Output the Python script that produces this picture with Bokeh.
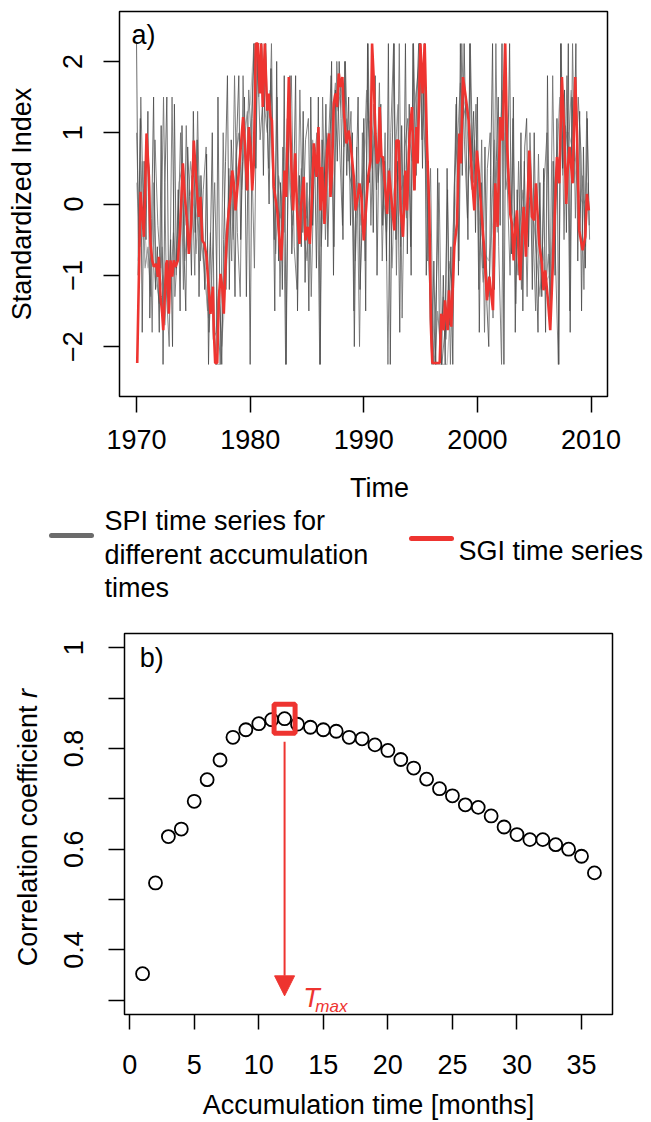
import numpy as np
from bokeh.plotting import figure
from bokeh.layouts import column, row
from bokeh.models import Range1d, FixedTicker, Arrow, NormalHead
from bokeh.core.properties import value
from bokeh.embed import file_html
from bokeh.resources import INLINE

# ---------------- data: panel a ----------------
sgi_time = [1970.06, 1970.35, 1970.65, 1970.88, 1971.09, 1971.23, 1971.38, 1971.52, 1971.73, 1971.88,
            1971.96, 1972.11, 1972.26, 1972.35, 1972.46, 1972.61, 1972.70, 1972.84, 1972.99, 1973.14,
            1973.28, 1973.43, 1973.64, 1973.81, 1974.08, 1974.25, 1974.46, 1974.60, 1974.81, 1975.04,
            1975.25, 1975.48, 1975.63, 1975.78, 1975.98, 1976.16, 1976.30, 1976.51, 1976.72, 1976.80,
            1976.92, 1977.10, 1977.24, 1977.39, 1977.54, 1977.68, 1977.83, 1977.98, 1978.12, 1978.27,
            1978.42, 1978.56, 1978.71, 1978.86, 1979.15, 1979.38, 1979.53, 1979.74, 1979.88, 1980.03,
            1980.18, 1980.32, 1980.50, 1980.67, 1980.85, 1980.97, 1981.11, 1981.29, 1981.50, 1981.64,
            1981.79, 1981.91, 1982.08, 1982.38, 1982.61, 1982.73, 1982.90, 1983.02, 1983.17, 1983.40,
            1983.61, 1983.78, 1983.96, 1984.13, 1984.34, 1984.49, 1984.72, 1984.87, 1985.07, 1985.25,
            1985.45, 1985.60, 1985.84, 1986.01, 1986.19, 1986.33, 1986.54, 1986.77, 1986.95, 1987.07,
            1987.21, 1987.36, 1987.51, 1987.65, 1987.80, 1987.95, 1988.12, 1988.24, 1988.47, 1988.68,
            1988.83, 1989.12, 1989.27, 1989.47, 1989.62, 1989.79, 1990.00, 1990.21, 1990.38, 1990.59,
            1990.73, 1990.87, 1991.02, 1991.17, 1991.31, 1991.40, 1991.55, 1991.69, 1991.81, 1992.05,
            1992.22, 1992.49, 1992.69, 1992.87, 1993.07, 1993.25, 1993.45, 1993.66, 1993.80, 1994.04,
            1994.24, 1994.45, 1994.63, 1994.74, 1994.98, 1995.18, 1995.36, 1995.56, 1995.77, 1995.92,
            1996.03, 1996.68, 1996.82, 1997.03, 1997.15, 1997.38, 1997.50, 1997.70, 1997.97, 1998.20,
            1998.41, 1998.55, 1998.73, 1998.93, 1999.23, 1999.52, 1999.73, 1999.96, 2000.11, 2000.34,
            2000.61, 2000.84, 2001.05, 2001.37, 2001.57, 2001.78, 2002.01, 2002.22, 2002.45, 2002.60,
            2002.89, 2003.04, 2003.19, 2003.33, 2003.48, 2003.63, 2003.77, 2003.92, 2004.07, 2004.27,
            2004.56, 2004.80, 2005.00, 2005.15, 2005.44, 2005.68, 2005.82, 2005.97, 2006.21, 2006.41,
            2006.70, 2007.00, 2007.20, 2007.44, 2007.64, 2007.82, 2007.94, 2008.11, 2008.38, 2008.61,
            2008.76, 2008.96, 2009.26, 2009.49, 2009.64, 2009.81]
sgi_value = [-2.23, 0.17, -0.46, 0.99, 0.38, -0.56, -0.79, -0.88, -0.84, -1.02,
             -0.74, -1.30, -1.54, -1.77, -1.40, -0.84, -0.79, -1.54, -0.79, -1.02,
             -0.79, -0.88, -0.79, -0.42, 0.57, 0.10, -0.28, -0.70, -0.28, 0.89,
             0.33, -0.18, 0.10, -0.51, -0.56, -0.74, -1.07, -1.54, -1.16, -1.77,
             -2.23, -2.23, -1.35, -0.98, -1.16, -1.54, -0.84, -0.37, -0.09, 0.10,
             0.47, 0.29, -0.09, 0.19, 0.75, 1.22, 0.85, 0.19, 1.08, 0.80,
             0.19, 0.57, 2.25, 2.25, 1.55, 2.25, 1.36, 2.25, 1.31, 1.55,
             1.22, 1.17, 0.24, -0.09, -0.56, -0.79, -0.18, 0.47, 0.10, 1.78,
             0.61, -0.09, 0.71, -0.09, -0.56, 0.00, 0.38, -0.51, -0.32, -0.56,
             0.14, 0.85, 0.38, 1.08, -0.09, 0.52, -0.28, 0.75, 0.99, 0.10,
             0.47, 1.41, 1.55, 1.36, 1.83, 1.64, 1.78, 1.31, 0.85, 1.03,
             0.85, 0.38, -0.09, 0.10, 0.29, 0.10, -0.51, -0.04, 0.38, 0.61,
             2.25, 1.78, 0.99, 0.57, 0.61, 1.36, 0.66, 0.66, 0.38, -0.14,
             0.47, -0.04, -0.37, 0.89, 0.89, -0.09, -0.46, 0.47, -0.09, 0.99,
             1.36, 0.19, 1.08, 0.57, 2.25, 1.55, 2.25, 0.85, -0.09, -1.77,
             -2.23, -2.23, -1.54, -1.77, -1.35, -1.77, -1.21, -1.72, -0.60, -0.28,
             0.99, 0.57, 1.78, 1.55, 1.17, 0.38, -0.09, 0.75, 0.47, -0.09,
             -0.65, -1.35, -1.02, -1.49, 0.29, -0.32, 1.22, 0.89, 2.25, 0.89,
             -0.14, -0.28, -0.79, -0.37, -0.09, -0.70, -1.07, -0.46, -0.04, -0.74,
             0.75, -0.18, -0.23, 0.29, -0.56, -0.84, -1.21, -0.93, -1.35, -1.77,
             -0.60, 0.66, 0.29, 1.78, 0.99, 0.00, 0.47, 0.80, 0.29, 1.78,
             0.99, -0.37, -0.65, -0.46, 0.14, -0.09]

# SPI, short accumulation (bi-monthly readings, 1970-2009)
spi_short = [
    2.25, -0.8, 1.2, -1.8, 0.6, -0.5,   1.3, -1.6, -0.2, 1.5, -1.2, -0.6,
    -1.8, 1.1, -2.25, 0.3, 1.5, -1.4,   -0.5, -2.0, 1.4, -0.9, 0.2, -1.5,
    1.1, -0.6, -1.5, 0.8, 0.1, -1.0,    1.3, -0.4, 0.9, -1.3, 0.4, -0.3,
    -1.2, 0.7, -2.25, -0.6, 1.0, -1.8,  -2.25, 1.5, -1.4, -2.25, -0.5, 0.6,
    1.8, -1.2, 0.9, 0.2, -1.3, 1.0,     1.8, -0.5, 0.6, 1.5, -1.3, 0.9,
    -2.25, 1.2, 2.25, 0.5, 2.25, 1.6,   2.25, 0.4, 2.25, 1.2, 0.0, 1.9,
    0.5, -1.5, 2.0, -0.8, 0.3, -1.2,    1.8, -2.25, 0.6, 1.8, -0.7, 0.2,
    1.8, -1.5, 0.4, -0.6, 1.3, -1.1,    0.3, -1.5, 1.5, -0.3, 0.8, -0.9,
    1.5, -2.25, 0.9, 0.1, 1.4, -0.6,    0.5, 2.0, -1.0, 1.6, 0.6, 2.0,
    1.2, -0.5, 2.0, 0.4, 1.5, -0.3,     1.0, -2.0, 0.3, 1.5, -1.2, -0.4,
    1.2, -1.5, 2.25, 0.3, 1.5, -0.4,    1.8, -1.0, 0.9, 1.4, -0.3, 0.6,
    -0.8, 2.25, -2.25, 0.7, 2.25, -0.5, 0.6, -1.8, 1.1, -0.3, 2.25, -0.7,
    1.4, -1.0, 2.25, 0.2, 1.5, 2.25,    2.25, 0.5, 2.25, -1.0, 0.6, -1.6,
    -2.25, -0.8, -2.25, 0.5, -1.9, -2.25, -1.0, -2.25, 0.5, -1.7, -0.6, -2.25,
    0.2, 1.5, -1.0, 2.25, 0.4, 2.25,    0.9, -0.5, 2.25, 0.6, 1.3, -0.4,
    1.5, -1.8, 0.3, -0.9, 0.8, -1.4,    -2.0, 0.4, 2.25, -1.2, 0.6, 1.5,
    -0.3, 2.25, -2.25, 1.8, 0.5, 2.25,  -0.7, 1.5, -1.8, 0.2, -1.0, 1.0,
    -1.5, 0.8, 1.2, -0.6, 0.5, -1.2,    1.0, -0.8, -1.8, 0.3, -1.3, 0.5,
    -1.8, 1.8, -0.7, -1.6, 0.6, -1.0,   1.2, -2.25, 2.25, 0.5, 1.6, -0.4,
    2.25, -1.8, 1.5, 0.6, 2.25, -0.8,   1.3, -1.5, 0.8, -0.9, 1.2, -0.3]

# SPI, second short accumulation (quarterly readings, offset)
spi_short2 = [
    -1.0, 1.5, -0.2, 0.8,  0.5, -1.8, 0.9, -0.3,  -0.9, 1.5, -1.2, -2.0,  1.5, -1.3, -0.6, 1.0,
    -1.2, 1.1, -0.7, 0.4,  -1.0, 1.3, -0.8, 0.2,  0.8, -1.8, -1.0, 0.3,  -1.5, -2.25, 1.0, -1.2,
    0.5, -0.8, 1.8, -0.4,  -1.3, 1.8, 0.2, 1.6,   0.8, -0.9, 2.25, 0.9,  1.5, 2.25, 0.5, 2.25,
    -0.5, 1.5, -1.3, 0.8,  -2.25, 0.7, 1.8, -0.6, -1.2, 1.6, -0.4, 0.9,  1.2, -1.3, 0.5, 1.0,
    -2.25, 1.5, -0.5, 0.8, 1.8, -0.6, 2.0, 0.8,   -0.3, 2.0, 0.6, 1.3,   -1.5, 0.8, -2.0, 1.0,
    -0.8, 2.25, -0.3, 1.4, 0.2, 1.7, -0.8, 1.0,   -2.25, 1.0, 2.25, -1.0, 2.25, -1.6, 0.8, 1.2,
    -0.6, 2.25, 0.4, 2.25, 0.9, 2.25, -0.8, 0.5,  -2.25, -1.2, 0.3, -2.25, -1.8, 0.2, -2.25, -0.4,
    1.4, -0.8, 2.25, 0.8,  -0.2, 2.25, 0.3, 1.4,  -1.2, 0.9, -1.8, 0.5,  1.0, -1.6, 2.25, -0.6,
    -2.25, 2.25, 0.3, -1.0, 1.2, -1.4, 0.6, -1.2, 0.6, -1.3, 1.0, -0.2,  -1.5, 0.7, -1.2, 0.3,
    1.0, -1.5, 1.8, -0.8,  -2.25, 2.25, -0.5, 1.8, -1.5, 2.25, -0.2, 1.5, 0.7, -1.2, 1.3, -0.5]

# SPI, medium accumulation (quarterly readings)
spi_medium = [
    1.0, -0.5, 0.6, -0.9,  -0.6, -1.3, 0.3, -1.0,  -1.4, -0.6, -1.7, -0.8,  -1.2, -0.4, -1.0, 0.3,
    0.5, -0.8, -0.2, 0.6,  0.2, -0.7, 0.4, -0.6,   -0.9, -1.5, -0.4, -1.9,  -1.8, -1.2, -2.0, -0.6,
    -0.2, 0.4, -0.5, 0.7,  1.0, 0.2, 0.9, 1.3,     0.6, 1.8, 2.25, 1.5,    2.25, 1.4, 1.0, 1.6,
    0.3, -0.7, 0.4, 0.1,   -0.4, 1.2, 0.2, -0.3,   0.6, -0.5, 0.5, -0.4,   -0.8, 0.2, 0.9, 0.4,
    0.7, -0.6, 0.3, 1.0,   0.2, 1.2, 1.7, 1.3,     1.7, 0.8, 1.2, 0.4,     0.2, -0.8, 0.3, -0.3,
    0.6, 1.6, 0.9, 0.5,    1.2, 0.3, 0.8, 0.1,     -0.4, 0.5, -0.9, 0.6,   1.4, -0.6, 0.4, -0.2,
    1.0, 0.6, 1.4, 1.8,    2.25, 1.2, 0.4, -1.0,   -1.8, -2.25, -1.5, -2.0, -1.3, -1.9, -0.8, -1.1,
    0.4, 0.9, 1.7, 1.2,    1.4, 0.6, 0.2, 0.9,     0.3, -0.4, -1.1, -0.8,  -1.3, -0.2, 0.9, -0.4,
    1.0, 1.6, 0.2, 0.5,    -0.5, -0.2, -1.0, -0.3, 0.2, -0.5, 0.6, 0.0,    -0.3, -0.8, -1.3, -0.6,
    -1.2, -0.7, -1.5, 0.2, 0.6, 1.5, 0.4, 1.1,     0.7, 1.6, 0.3, 0.9,     -0.2, 0.4, -0.6, 0.3]

# SPI, long accumulation (readings every 4 months)
spi_long = [
    0.3, -0.6, -0.3,  -0.9, -0.7, -1.1,  -1.3, -1.0, -1.2,  -0.8, -1.0, -0.3,
    0.1, -0.3, 0.2,   0.0, -0.2, -0.5,   -1.0, -1.6, -1.4,  -2.25, -2.25, -1.6,
    -0.6, 0.1, 0.3,   0.6, 0.9, 1.2,     1.4, 2.25, 2.25,   2.25, 1.6, 1.3,
    0.5, 0.0, -0.2,   0.3, 0.6, 0.1,     0.2, 0.0, -0.1,    -0.2, 0.3, 0.5,
    0.4, 0.2, 0.6,    1.0, 1.4, 1.6,     1.5, 1.1, 0.7,     0.3, -0.2, 0.1,
    0.6, 1.2, 1.1,    0.8, 0.7, 0.4,     0.1, -0.2, 0.2,    0.4, 0.2, 0.5,
    0.9, 1.3, 1.6,    1.9, 1.4, 0.2,     -1.4, -2.25, -2.25, -2.25, -2.25, -1.4,
    -0.2, 0.8, 1.3,   1.5, 1.1, 0.6,     0.2, -0.4, -0.7,   -0.8, -0.3, 0.4,
    0.9, 1.0, 0.4,    0.0, -0.4, -0.6,   -0.2, 0.0, 0.1,    -0.3, -0.7, -1.0,
    -1.1, -1.0, -0.4, 0.3, 0.9, 1.0,     1.0, 0.8, 0.4,     0.1, 0.0, 0.1]

year_ticks = [1970, 1980, 1990, 2000, 2010]
index_ticks = [-2, -1, 0, 1, 2]

# ---------------- data: panel b ----------------
accum_months = list(range(1, 37))
corr_r = [0.353, 0.533, 0.625, 0.640, 0.695, 0.738, 0.777, 0.822, 0.837, 0.849,
          0.857, 0.859, 0.848, 0.842, 0.837, 0.834, 0.822, 0.819, 0.807, 0.796,
          0.778, 0.761, 0.739, 0.720, 0.706, 0.688, 0.683, 0.666, 0.644, 0.629,
          0.619, 0.619, 0.609, 0.600, 0.586, 0.553]
month_ticks = [0, 5, 10, 15, 20, 25, 30, 35]
r_ticks = [0.3, 0.4, 0.5, 0.6, 0.7, 0.8, 0.9, 1.0]

# ---------------- styling ----------------
FONT = "Liberation Sans"
FS = "27px"
RED = "#EE3430"


def style_axes(p):
    p.grid.visible = False
    p.outline_line_color = "black"
    p.outline_line_width = 1.5
    for ax in p.axis:
        ax.axis_line_color = None
        ax.major_tick_in = 0
        ax.major_tick_out = 16
        ax.major_tick_line_width = 1.5
        ax.major_tick_line_color = "black"
        ax.minor_tick_line_color = None
        ax.major_label_text_font = FONT
        ax.major_label_text_font_size = FS
        ax.major_label_text_color = "black"
        ax.axis_label_text_font = FONT
        ax.axis_label_text_font_size = FS
        ax.axis_label_text_font_style = "normal"
        ax.axis_label_text_color = "black"


def blank(width, height, y_top_down=False):
    f = figure(width=width, height=height, x_range=Range1d(0, width),
               y_range=Range1d(height, 0) if y_top_down else Range1d(0, height),
               output_backend="svg", toolbar_location=None, min_border=0, frame_align=False,
               x_axis_location=None, y_axis_location=None)
    f.grid.visible = False
    f.outline_line_color = None
    return f


# ---------------- panel a ----------------
pa = figure(width=651, height=460, x_range=Range1d(1968.5, 2011.45), y_range=Range1d(-2.7, 2.7),
            output_backend="svg", toolbar_location=None, frame_align=False,
            min_border_left=119, min_border_right=44, min_border_top=11, min_border_bottom=64)
style_axes(pa)
pa.xaxis.ticker = FixedTicker(ticks=year_ticks)
pa.yaxis.ticker = FixedTicker(ticks=index_ticks)
pa.yaxis.major_label_overrides = {-2: "\u22122", -1: "\u22121"}
pa.yaxis.major_label_orientation = "vertical"
pa.yaxis.axis_label = "Standardized Index"
pa.yaxis.major_label_standoff = 21
pa.yaxis.axis_label_standoff = 24
pa.xaxis.major_label_standoff = 17

t_short = 1970 + np.arange(len(spi_short)) / 6
t_short2 = 1970 + 0.125 + np.arange(len(spi_short2)) / 4
t_medium = 1970 + np.arange(len(spi_medium)) / 4
t_long = 1970 + np.arange(len(spi_long)) / 3

pa.line(t_long, spi_long, line_color="#C4C4C4", line_width=1.2)
pa.line(t_medium, spi_medium, line_color="#9A9A9A", line_width=1.1)
pa.line(t_short2, spi_short2, line_color="#707070", line_width=1.0, line_alpha=0.85)
pa.line(t_short, spi_short, line_color="#4A4A4A", line_width=1.0, line_alpha=0.8)
pa.line(sgi_time, sgi_value, line_color=RED, line_width=2.6)

pa.text(x=[1969.56], y=[2.37], text=["a)"], text_font=value(FONT), text_font_size=FS,
        text_baseline="middle", text_align="left", text_color="black")

# ---------------- legend strip (pixel coordinates, top-down) ----------------
pl = blank(651, 150, y_top_down=True)
pl.text(x=[379], y=[27], text=["Time"], text_font=value(FONT), text_font_size=FS,
        text_align="center", text_baseline="alphabetic", text_color="black")
pl.line([51, 91], [75, 75], line_color="#6B6B6B", line_width=5, line_cap="round")
pl.line([411, 451], [78, 78], line_color=RED, line_width=5, line_cap="round")
pl.text(x=[104, 104, 104], y=[60, 94, 127],
        text=["SPI time series for", "different accumulation", "times"],
        text_font=value(FONT), text_font_size=FS, text_align="left",
        text_baseline="alphabetic", text_color="black")
pl.text(x=[458], y=[90], text=["SGI time series"], text_font=value(FONT), text_font_size=FS,
        text_align="left", text_baseline="alphabetic", text_color="black")

# ---------------- panel b y-axis title (with italic r) ----------------
ylab = blank(45, 512)
ylab.text(x=[27], y=[417], text=["Correlation coefficient"], angle=np.pi / 2,
          text_font=value(FONT), text_font_size=FS, text_align="right",
          text_baseline="alphabetic", text_color="black")
ylab.text(x=[27], y=[424.5], text=["r"], angle=np.pi / 2,
          text_font=value(FONT), text_font_size=FS, text_font_style="italic",
          text_align="left", text_baseline="alphabetic", text_color="black")

# ---------------- panel b ----------------
pb = figure(width=606, height=512, x_range=Range1d(-0.4, 37.4), y_range=Range1d(0.272, 1.028),
            output_backend="svg", toolbar_location=None, frame_align=False,
            min_border_left=79, min_border_right=39, min_border_top=23, min_border_bottom=105)
style_axes(pb)
pb.xaxis.ticker = FixedTicker(ticks=month_ticks)
pb.yaxis.ticker = FixedTicker(ticks=r_ticks)
pb.yaxis.major_label_overrides = {0.3: "", 0.5: "", 0.7: "", 0.9: "", 1.0: "1"}
pb.yaxis.major_label_orientation = "vertical"
pb.xaxis.axis_label = "Accumulation time [months]"
pb.xaxis.major_tick_out = 15
pb.xaxis.major_label_standoff = 25
pb.xaxis.axis_label_standoff = 13
pb.yaxis.major_label_standoff = 25

pb.scatter(accum_months, corr_r, marker="circle", size=13, fill_color=None,
           line_color="black", line_width=1.8)

imax = int(np.argmax(corr_r))
t_max = accum_months[imax]
r_max = corr_r[imax]
pb.rect(x=[t_max], y=[r_max], width=21, height=29, width_units="screen", height_units="screen",
        fill_color=None, line_color=RED, line_width=5)
pb.add_layout(Arrow(x_start=t_max, y_start=r_max - 0.046, x_end=t_max, y_end=0.309,
                    line_color=RED, line_width=2,
                    end=NormalHead(size=20, fill_color=RED, line_color=RED)))
pb.text(x=[13.45], y=[0.3054], text=["T"], text_font=value(FONT), text_font_size=FS,
        text_font_style="italic", text_align="left", text_baseline="alphabetic", text_color=RED)
pb.text(x=[14.38], y=[0.287], text=["max"], text_font=value(FONT), text_font_size="17px",
        text_font_style="italic", text_align="left", text_baseline="alphabetic", text_color=RED)
pb.text(x=[0.78], y=[0.979], text=["b)"], text_font=value(FONT), text_font_size=FS,
        text_baseline="middle", text_align="left", text_color="black")

layout = column(pa, pl, row(ylab, pb))
open("out.html", "w").write(file_html(layout, INLINE))
